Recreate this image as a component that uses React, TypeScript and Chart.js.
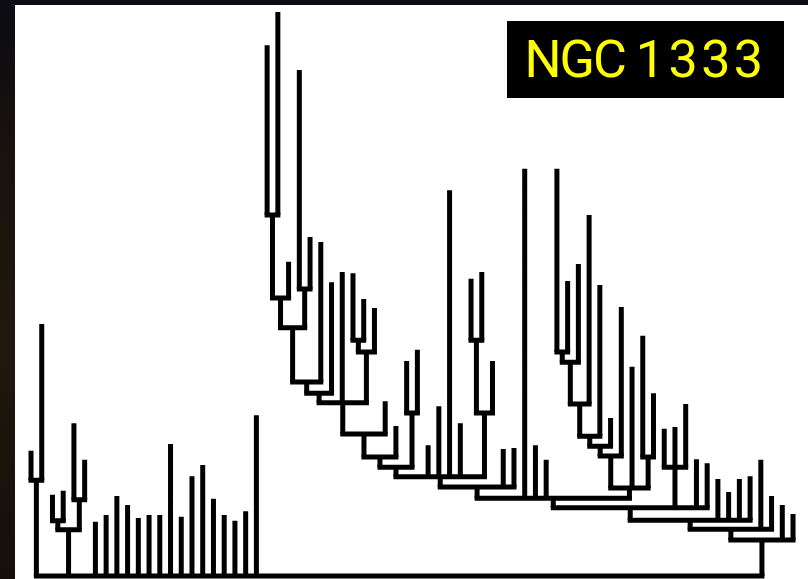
import React, { useEffect, useRef } from "react";
import { Chart, registerables } from "chart.js";

Chart.register(...registerables);

// Peak intensity of each leaf structure, in left-to-right leaf order (72 leaves)
const leafPeaks = [
  2.22, 4.47, 1.44, 1.51, 2.71, 2.06, 0.96, 1.08, 1.42, 1.26, 1.03, 1.08,
  1.08, 2.34, 1.05, 1.77, 1.97, 1.37, 1.08, 0.98, 1.15, 2.85, 9.41, 10.0,
  5.57, 8.97, 6.01, 5.92, 5.21, 5.39, 5.37, 4.91, 4.75, 3.10, 2.66, 3.81,
  4.01, 2.32, 3.01, 6.84, 2.71, 5.27, 5.39, 3.81, 2.25, 2.27, 7.22, 2.32,
  2.06, 7.22, 5.23, 5.53, 6.40, 5.16, 2.80, 4.77, 3.71, 4.26, 3.24, 2.61,
  2.64, 3.05, 2.07, 2.00, 1.72, 1.49, 1.72, 1.77, 2.06, 1.42, 1.26, 1.10,
];

// Branch (merge) id that each leaf belongs to
const leafParent = [
  1, 1, 2, 2, 3, 3, 0, 0, 0, 0, 0, 0,
  0, 0, 0, 0, 0, 0, 0, 0, 0, 0, 5, 5,
  6, 7, 7, 9, 10, 13, 11, 11, 12, 14, 15, 16,
  16, 20, 20, 20, 20, 18, 18, 19, 21, 21, 30, 30,
  30, 22, 22, 23, 24, 25, 26, 27, 29, 28, 28, 31,
  31, 31, 32, 32, 33, 33, 33, 33, 34, 34, 35, 35,
];

// Merge level of each branch (branch 0 is the trunk)
const branchLevels = [
  0, 1.70, 0.98, 1.35, 0.82, 6.40, 4.93, 5.09, 4.40, 3.44, 3.24, 4.18,
  3.97, 3.07, 2.52, 2.11, 2.89, 1.93, 4.18, 2.89, 1.76, 1.58, 3.97, 3.79,
  3.05, 2.48, 2.30, 2.13, 2.11, 1.56, 1.38, 1.93, 1.21, 0.99, 0.83, 0.64,
];

// Parent branch of each branch (-1 = none)
const branchParent = [
  -1, 0, 4, 4, 0, 6, 8, 8, 9, 10, 13, 12,
  13, 14, 15, 17, 17, 20, 19, 20, 21, 30, 23, 24,
  25, 26, 27, 29, 29, 30, 32, 32, 33, 34, 35, 0,
];

const titleName = "NGC";
const titleNumber = "1333";

export default function App() {
  const ref = useRef<HTMLCanvasElement | null>(null);

  useEffect(() => {
    const canvas = ref.current;
    if (!canvas) return;

    const nB = branchLevels.length;
    const childLeaves: number[][] = Array.from({ length: nB }, () => []);
    const childBranches: number[][] = Array.from({ length: nB }, () => []);
    leafParent.forEach((p, i) => childLeaves[p].push(i));
    branchParent.forEach((p, b) => {
      if (p >= 0) childBranches[p].push(b);
    });

    const bx: (number | undefined)[] = new Array(nB).fill(undefined);
    const span: [number, number][] = new Array(nB);
    const posOf = (b: number): number => {
      if (bx[b] !== undefined) return bx[b] as number;
      const xs = [
        ...childLeaves[b],
        ...childBranches[b].map((c) => posOf(c)),
      ];
      const lo = Math.min(...xs);
      const hi = Math.max(...xs);
      span[b] = [lo, hi];
      bx[b] = (lo + hi) / 2;
      return bx[b] as number;
    };
    for (let b = 0; b < nB; b++) posOf(b);

    const verticals: { x: number; y: number | null }[] = [];
    const horizontals: { x: number; y: number | null }[] = [];

    leafPeaks.forEach((peak, i) => {
      const base = branchLevels[leafParent[i]];
      verticals.push({ x: i, y: base }, { x: i, y: peak }, { x: i, y: null });
    });
    for (let b = 0; b < nB; b++) {
      const x = bx[b] as number;
      const p = branchParent[b];
      if (p >= 0) {
        verticals.push(
          { x, y: branchLevels[p] },
          { x, y: branchLevels[b] },
          { x, y: null }
        );
      }
      const [lo, hi] = span[b];
      horizontals.push(
        { x: lo, y: branchLevels[b] },
        { x: hi, y: branchLevels[b] },
        { x: hi, y: null }
      );
    }

    const common = {
      showLine: true,
      spanGaps: false,
      pointRadius: 0,
      pointHoverRadius: 0,
      borderColor: "#000000",
      backgroundColor: "#000000",
      borderWidth: 5,
      tension: 0,
      fill: false,
      clip: false as const,
    };

    const chart = new Chart(canvas, {
      type: "scatter",
      data: {
        datasets: [
          { ...common, label: "branches", data: verticals, borderCapStyle: "butt" },
          { ...common, label: "merges", data: horizontals, borderCapStyle: "square" },
        ],
      },
      options: {
        animation: false,
        responsive: false,
        maintainAspectRatio: false,
        events: [],
        layout: { padding: 0 },
        plugins: {
          legend: { display: false },
          tooltip: { enabled: false },
          title: { display: false },
        },
        scales: {
          x: { type: "linear", display: false, min: -1.491, max: 72.395 },
          y: { type: "linear", display: false, min: -0.053, max: 10.124 },
        },
      },
    });
    return () => chart.destroy();
  }, []);

  return (
    <div
      style={{
        position: "fixed",
        left: 0,
        top: 0,
        width: 808,
        height: 579,
        overflow: "hidden",
        background:
          "linear-gradient(to bottom, #0b0b12 0%, #1a130d 30%, #21170e 60%, #140f0a 100%)",
      }}
    >
      <div
        style={{
          position: "absolute",
          left: 15,
          top: 5,
          width: 793,
          height: 574,
          background: "#ffffff",
        }}
      >
        <canvas ref={ref} width={793} height={574} style={{ display: "block" }} />
      </div>
      <div
        style={{
          position: "absolute",
          left: 507,
          top: 21,
          width: 277,
          height: 77,
          background: "#000000",
          color: "#ffff00",
          fontFamily: "Roboto, sans-serif",
          fontSize: 52,
          lineHeight: "77px",
          textAlign: "center",
          whiteSpace: "nowrap",
        }}
      >
        <span style={{ letterSpacing: "-2px" }}>{titleName}</span>
        <span style={{ letterSpacing: "-2px" }}> </span>
        <span style={{ letterSpacing: "3.5px" }}>{titleNumber}</span>
      </div>
    </div>
  );
}
